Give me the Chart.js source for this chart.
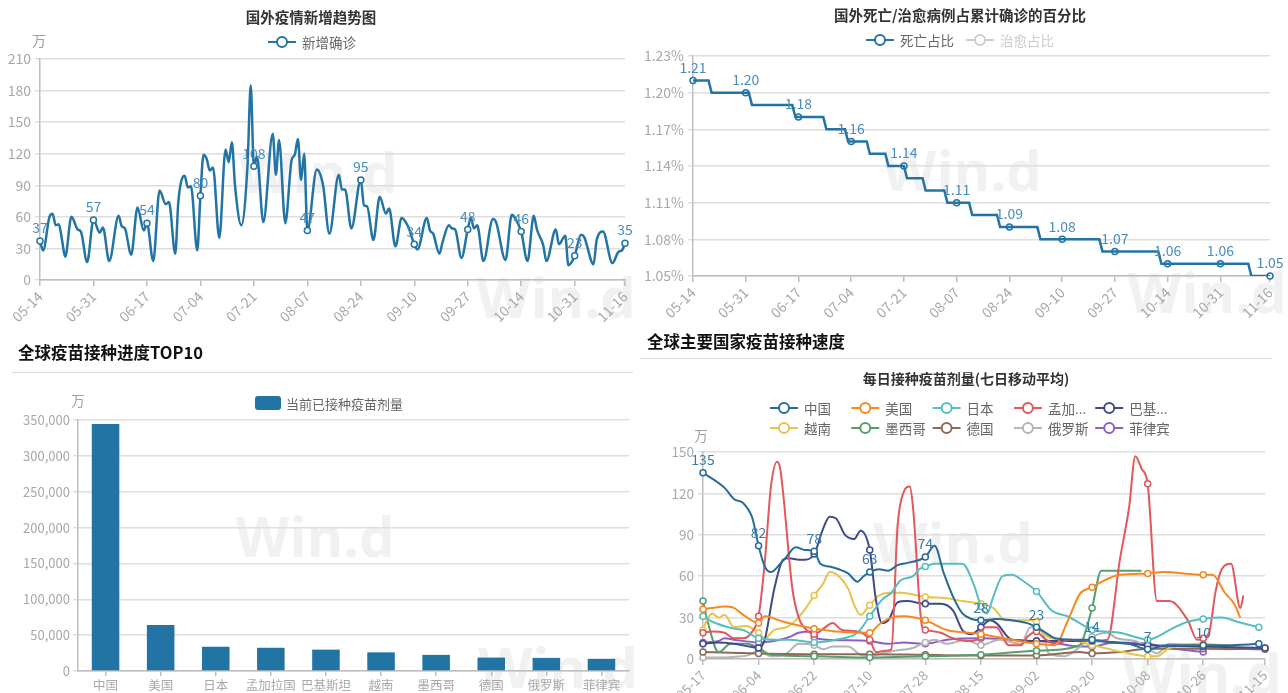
<!DOCTYPE html>
<html><head><meta charset="utf-8">
<script src="https://cdn.jsdelivr.net/npm/chart.js@4.4.1/dist/chart.umd.min.js"></script>
<style>
body{margin:0;width:1288px;height:693px;background:#fff;position:relative;overflow:hidden;font-family:'Noto Sans CJK SC','Noto Sans',sans-serif}
canvas{position:absolute}
.hd{position:absolute;font-weight:bold;font-size:16.5px;line-height:22px;color:#111;white-space:nowrap;z-index:2}
.rule{position:absolute;height:0;border-top:1.5px solid #dddddd;z-index:2}
</style></head>
<body>
<canvas id="c1" width="640" height="340" style="left:0;top:0"></canvas>
<canvas id="c2" width="648" height="340" style="left:640px;top:0"></canvas>
<canvas id="c3" width="640" height="353" style="left:0;top:340px"></canvas>
<canvas id="c4" width="648" height="353" style="left:640px;top:340px"></canvas>
<div class="hd" style="left:18px;top:341px">全球疫苗接种进度TOP10</div>
<div class="rule" style="left:12px;top:372px;width:621px"></div>
<div class="hd" style="left:647px;top:330px">全球主要国家疫苗接种速度</div>
<div class="rule" style="left:640px;top:358px;width:632px"></div>
<script>
// ---------------- DATA ----------------
const topTickDays = [0,17,34,51,68,85,102,119,136,153,170,186];
const topTickLabels = ['05-14','05-31','06-17','07-04','07-21','08-07','08-24','09-10','09-27','10-14','10-31','11-16'];

// 新增确诊 (万) : [day, value]
const newCases = [[0,37],[1,28],[3,60],[4,63],[5,52],[6,53],[7,38],[8,22],[10,60],[12,48],[13,46],[15,17],[17,57],[19,45],[20,50],[22,18],[25,61],[26,51],[27,49],[29,24],[31,69],[33,47],[34,54],[36,18],[38,85],[40,72],[41,74],[43,25],[44,75],[46,99],[47,88],[48,89],[50,28],[51,80],[52,119],[53,115],[54,104],[55,107],[57,40],[59,124],[60,112],[61,131],[62,90],[64,52],[66,110],[67,185],[68,108],[69,117],[71,55],[74,139],[75,100],[76,133],[78,54],[80,114],[81,119],[82,134],[83,95],[84,120],[85,47],[88,105],[90,90],[92,44],[95,100],[96,86],[97,86],[99,49],[102,95],[103,71],[104,70],[106,38],[108,79],[110,63],[111,68],[113,32],[115,59],[117,51],[119,34],[120,29],[123,59],[124,47],[125,44],[127,25],[128,36],[130,52],[131,49],[132,48],[134,21],[136,48],[137,59],[138,49],[139,52],[141,18],[144,58],[145,55],[148,19],[150,62],[151,59],[153,46],[155,18],[157,61],[158,48],[160,33],[161,18],[164,48],[165,34],[167,42],[168,14],[170,23],[172,43],[173,41],[176,15],[177,38],[179,46],[182,16],[184,27],[185,28],[186,35]];

// 死亡占比 (%) : [day, value]
const deathRatio = [[0,1.21],[5,1.21],[6,1.20],[18,1.20],[19,1.19],[32,1.19],[33,1.18],[42,1.18],[43,1.17],[49,1.17],[50,1.16],[56,1.16],[57,1.15],[62,1.15],[63,1.14],[68,1.14],[69,1.13],[74,1.13],[75,1.12],[81,1.12],[82,1.11],[89,1.11],[90,1.10],[98,1.10],[99,1.09],[111,1.09],[112,1.08],[131,1.08],[132,1.07],[150,1.07],[151,1.06],[179,1.06],[180,1.05],[186,1.05]];
const deathMarkers = [[0,1.21],[17,1.20],[34,1.18],[51,1.16],[68,1.14],[85,1.11],[102,1.09],[119,1.08],[136,1.07],[153,1.06],[170,1.06],[186,1.05]];
const deathTicks = [1.05,1.08,1.11,1.14,1.17,1.20,1.23];

// 疫苗接种 TOP10 (万剂)
const vacCountries = ['中国','美国','日本','孟加拉国','巴基斯坦','越南','墨西哥','德国','俄罗斯','菲律宾'];
const vacDoses = [344500,64300,33800,32400,29800,26000,22500,18700,18300,17000];

// 每日接种疫苗剂量(七日移动平均, 万) : [day, value]
const vacTickDays = [0,18,36,54,72,90,108,126,144,162,182];
const vacTickLabels = ['05-17','06-04','06-22','07-10','07-28','08-15','09-02','09-20','10-08','10-26','11-15'];
const dChina = [[0,135],[7,124],[10,116],[13,113],[16,102],[18,82],[20,67],[22,63],[25,69],[27,74],[30,81],[33,79],[36,78],[38,69],[41,67],[44,65],[47,62],[50,56],[52,60],[54,63],[57,65],[60,64],[63,68],[67,70],[72,74],[75,82],[78,62],[81,45],[84,33],[87,29],[90,28],[95,29],[100,28],[105,26],[108,23],[111,19],[114,15],[120,14],[126,14],[132,12],[138,11],[144,7],[150,10],[162,10],[170,10],[180,11]];
const dUSA = [[0,36],[3,37],[7,38],[10,37],[13,32],[18,26],[20,31],[26,27],[36,22],[43,20],[54,19],[57,25],[61,30],[65,31],[72,28],[79,21],[86,19],[90,18],[100,14],[108,11],[114,10],[118,27],[122,47],[126,52],[130,57],[135,61],[144,62],[149,63],[162,61],[165,61],[169,48],[172,40],[174,30]];
const dJapan = [[0,31],[3,27],[10,22],[13,21],[18,15],[23,14],[28,14],[36,12],[43,14],[50,19],[54,31],[58,43],[61,48],[64,57],[68,60],[70,65],[72,67],[75,69],[79,69],[84,69],[88,52],[90,38],[92,33],[94,45],[97,60],[100,61],[104,56],[108,49],[113,35],[118,31],[122,26],[126,21],[130,20],[135,19],[140,16],[144,14],[147,16],[151,21],[157,27],[162,29],[168,30],[173,27],[180,23]];
const dBangladesh = [[0,19],[3,20],[7,19],[10,15],[13,15],[16,20],[18,31],[20,70],[22,125],[24,143],[25,138],[29,50],[31,30],[34,20],[36,18],[39,22],[42,26],[45,21],[50,20],[54,14],[56,5],[59,6],[61,7],[63,96],[65,121],[67,125],[68,110],[71,23],[72,21],[77,19],[81,15],[86,13],[90,16],[91,23],[95,23],[99,10],[103,10],[105,16],[108,20],[110,16],[114,11],[119,14],[125,13],[131,14],[135,72],[138,110],[140,147],[142,138],[144,127],[147,42],[151,42],[157,28],[160,14],[162,15],[164,20],[166,49],[168,65],[171,69],[174,37],[175,46]];
const dPakistan = [[0,11],[5,12],[10,11],[15,9],[18,8],[20,14],[23,50],[26,72],[28,73],[31,72],[33,72],[36,76],[39,95],[41,103],[43,102],[46,90],[49,87],[51,93],[54,79],[56,43],[58,26],[60,28],[63,41],[66,42],[72,40],[77,40],[81,35],[84,21],[87,18],[90,23],[93,28],[95,26],[100,14],[108,13],[126,13],[144,10],[162,9],[182,8]];
const dVietnam = [[0,21],[1,27],[3,33],[5,30],[7,32],[10,23],[14,24],[18,19],[20,15],[23,21],[27,23],[30,28],[33,36],[36,46],[39,55],[41,63],[44,60],[47,51],[49,39],[51,32],[54,39],[57,46],[60,48],[64,48],[72,45],[79,44],[84,42],[90,40],[94,37],[98,28],[105,28],[108,27],[110,19],[115,14],[121,13],[126,10],[130,8],[136,5],[144,2],[147,2],[151,8],[162,11],[172,9]];
const dMexico = [[0,42],[2,23],[5,5],[9,11],[14,11],[18,8],[22,3],[36,2],[54,1],[72,2],[90,3],[108,6],[122,10],[123,14],[126,37],[129,64],[142,64]];
const dGermany = [[0,5],[18,4],[36,3.5],[54,3.5],[72,3],[90,2.5],[108,2.5],[122,5],[126,4],[135,5],[144,7.5],[162,7.5],[182,7]];
const dRussia = [[0,1],[10,1.5],[15,3],[18,6],[22,2],[27,4],[31,11],[36,10],[39,7],[42,9],[47,9],[51,3],[54,2],[58,4],[62,6],[68,8],[72,12],[75,14],[79,11],[85,14],[90,10],[96,14],[103,11],[106,23],[108,22],[110,19],[112,4],[117,2],[121,7],[126,16],[131,19],[134,15],[140,13],[144,8],[147,4],[151,11],[162,9],[170,7],[182,8]];
const dPhilippines = [[0,12],[5,13],[7,15],[10,14],[18,12],[25,14],[28,16],[31,19],[35,20],[36,16],[40,14],[54,13],[60,11],[65,12],[72,11],[79,14],[90,15],[100,14],[108,13],[113,12],[122,9],[126,9],[133,12],[144,11],[151,8],[162,5]];
const vacMarkerDays = [0,18,36,54,72,90,108,126,144,162,180,182];
const chinaLabelDays = [0,18,36,54,72,90,108,126,144,162];

// ---------------- SETUP ----------------
const FONT = "'Noto Sans CJK SC','Noto Sans',sans-serif";
Chart.defaults.font.family = FONT;
Chart.defaults.color = '#a8a8a8';
Chart.defaults.animation = false;
Chart.defaults.events = [];
Chart.defaults.plugins.legend.display = false;
Chart.defaults.plugins.tooltip.enabled = false;
const pts = a => a.map(([x, y]) => ({ x, y }));
const TICK = '#a8a8a8', GRID = '#dedede', AXIS = '#bdbdbd';

function drawLegend(chart, L) {
  const ctx = chart.ctx;
  ctx.save();
  ctx.font = (L.size || 13.5) + 'px ' + FONT;
  ctx.textBaseline = 'middle';
  ctx.textAlign = 'left';
  const items = [];
  chart.data.datasets.forEach((ds, i) => {
    if (!ds.label) return;
    let t = ds.label;
    if (L.maxChars && t.length > L.maxChars) t = t.slice(0, 2) + '...';
    items.push({ t, c: L.box ? ds.backgroundColor : ds.borderColor, off: !chart.isDatasetVisible(i) });
  });
  const iconW = L.box ? 31 : 34;
  const pos = [];
  if (L.colW) {
    items.forEach((it, i) => pos.push([L.x0 + (i % L.perRow) * L.colW, L.rows[Math.floor(i / L.perRow)]]));
  } else {
    const ws = items.map(it => iconW + ctx.measureText(it.t).width);
    const total = ws.reduce((a, b) => a + b, 0) + (L.gap || 12) * (ws.length - 1);
    let x = L.cx - total / 2;
    ws.forEach(w => { pos.push([x, L.y]); x += w + (L.gap || 12); });
  }
  items.forEach((it, i) => {
    const [x, y] = pos[i];
    const c = it.off ? '#cccccc' : it.c;
    if (L.box) {
      ctx.fillStyle = c;
      ctx.beginPath();
      if (ctx.roundRect) ctx.roundRect(x, y - 7, 26, 14, 3); else ctx.rect(x, y - 7, 26, 14);
      ctx.fill();
    } else {
      ctx.strokeStyle = c; ctx.lineWidth = 2;
      ctx.beginPath(); ctx.moveTo(x, y); ctx.lineTo(x + 28, y); ctx.stroke();
      ctx.beginPath(); ctx.arc(x + 14, y, 5, 0, Math.PI * 2);
      ctx.fillStyle = '#fff'; ctx.fill(); ctx.stroke();
    }
    ctx.fillStyle = it.off ? '#cccccc' : '#666';
    ctx.fillText(it.t, x + iconW, y + 1);
  });
  ctx.restore();
}

const deco = {
  id: 'deco',
  beforeDraw(chart, args, o) {
    const ctx = chart.ctx;
    (o.marks || []).forEach(m => {
      ctx.save();
      ctx.font = 'bold ' + m[2] + 'px "Open Sans", sans-serif';
      ctx.fillStyle = '#f1f1f1';
      ctx.textAlign = 'center'; ctx.textBaseline = 'middle';
      ctx.fillText('Win.d', m[0], m[1]);
      ctx.restore();
    });
  },
  afterDatasetsDraw(chart) {
    const ctx = chart.ctx;
    chart.data.datasets.forEach((ds, i) => {
      if (!ds.labelDays || !chart.isDatasetVisible(i)) return;
      const meta = chart.getDatasetMeta(i);
      ctx.save();
      ctx.font = (ds.labelSize || 14) + 'px ' + FONT;
      ctx.fillStyle = ds.labelColor;
      ctx.textAlign = 'center'; ctx.textBaseline = 'bottom';
      meta.data.forEach((el, j) => {
        const r = ds.data[j];
        if (!ds.labelDays.includes(r.x)) return;
        ctx.fillText(ds.labelFmt ? ds.labelFmt(r.y) : String(r.y), el.x, el.y - 6);
      });
      ctx.restore();
    });
  },
  afterDraw(chart, args, o) {
    const ctx = chart.ctx;
    (o.texts || []).forEach(t => {
      ctx.save();
      ctx.font = t.f + ' ' + FONT;
      ctx.fillStyle = t.c;
      ctx.textAlign = t.a || 'center'; ctx.textBaseline = 'middle';
      ctx.fillText(t.t, t.x, t.y);
      ctx.restore();
    });
    if (o.legend) drawLegend(chart, o.legend);
  }
};
Chart.register(deco);

function xLinear(days, labels, max, h, size) {
  return {
    type: 'linear', min: 0, max,
    afterBuildTicks: s => { s.ticks = days.map(v => ({ value: v })); },
    afterFit: s => { s.height = h; },
    ticks: { autoSkip: false, minRotation: 45, maxRotation: 45, padding: 2, color: TICK, font: { size },
      callback: v => labels[days.indexOf(v)] },
    grid: { drawOnChartArea: false, drawTicks: true, tickLength: 6, color: AXIS, lineWidth: 1.5 },
    border: { color: AXIS, width: 1.5 }
  };
}
function yLinear(min, max, step, w, size, pad, fmt, ticksArr) {
  const s = {
    min, max,
    afterFit: sc => { sc.width = w; },
    ticks: { stepSize: step, color: TICK, font: { size }, padding: pad, callback: fmt },
    grid: { color: GRID, lineWidth: 1.5, tickLength: 5, drawTicks: true },
    border: { display: true, color: AXIS, width: 1.5 }
  };
  if (ticksArr) s.afterBuildTicks = sc => { sc.ticks = ticksArr.map(v => ({ value: v })); };
  return s;
}
const markerRadius = (days, r) => ctx => (ctx.raw && days.includes(ctx.raw.x)) ? r : 0;

// ---------------- CHART 1 ----------------
const BLUE = '#2274a5', LBLUE = '#4a8dbb';
new Chart(document.getElementById('c1'), {
  type: 'line',
  data: { datasets: [{
    label: '新增确诊', data: pts(newCases), borderColor: BLUE, borderWidth: 2.5, clip: false,
    cubicInterpolationMode: 'monotone', pointRadius: markerRadius(topTickDays, 3),
    pointBackgroundColor: '#fff', pointBorderColor: BLUE, pointBorderWidth: 1.5,
    labelDays: topTickDays, labelColor: LBLUE, labelSize: 14
  }]},
  options: {
    responsive: false,
    layout: { padding: { top: 59, right: 15, left: 0, bottom: 0 } },
    scales: {
      x: xLinear(topTickDays, topTickLabels, 186, 60, 14),
      y: yLinear(0, 210, 30, 40, 14, 4, v => v)
    },
    plugins: { deco: {
      marks: [[318, 177, 56], [556, 302, 56]],
      texts: [{ t: '国外疫情新增趋势图', x: 311, y: 17, f: 'bold 14.5px', c: '#333' },
              { t: '万', x: 39, y: 41, f: '14px', c: '#a0a0a0' }],
      legend: { cx: 312, y: 42, size: 13.5 }
    }}
  }
});

// ---------------- CHART 2 ----------------
new Chart(document.getElementById('c2'), {
  type: 'line',
  data: { datasets: [
    { label: '死亡占比', data: pts(deathRatio), borderColor: BLUE, borderWidth: 2.5, tension: 0, pointRadius: 0 },
    { label: '治愈占比', data: [], borderColor: '#7fbf7f', hidden: true },
    { label: '', data: pts(deathMarkers), showLine: false, borderColor: BLUE, pointRadius: 3, clip: false,
      pointBackgroundColor: '#fff', pointBorderColor: BLUE, pointBorderWidth: 1.5,
      labelDays: topTickDays, labelColor: LBLUE, labelSize: 14, labelFmt: v => v.toFixed(2) }
  ]},
  options: {
    responsive: false,
    layout: { padding: { top: 56, right: 18, left: 0, bottom: 0 } },
    scales: {
      x: xLinear(topTickDays, topTickLabels, 186, 64, 14),
      y: yLinear(1.05, 1.23, 0.03, 53, 14, 4, v => v.toFixed(2) + '%', deathTicks)
    },
    plugins: { deco: {
      marks: [[322, 175, 56], [567, 297, 56]],
      texts: [{ t: '国外死亡/治愈病例占累计确诊的百分比', x: 320, y: 15, f: 'bold 14.5px', c: '#333' }],
      legend: { cx: 320, y: 40, size: 13.5, gap: 12 }
    }}
  }
});

// ---------------- CHART 3 ----------------
new Chart(document.getElementById('c3'), {
  type: 'bar',
  data: { labels: vacCountries, datasets: [{
    label: '当前已接种疫苗剂量', data: vacDoses, backgroundColor: '#2274a5',
    barPercentage: 0.5, categoryPercentage: 1
  }]},
  options: {
    responsive: false,
    layout: { padding: { top: 80, right: 11, left: 0, bottom: 0 } },
    scales: {
      x: {
        afterFit: s => { s.height = 22; },
        ticks: { autoSkip: false, maxRotation: 0, color: TICK, font: { size: 12.5 }, padding: 2 },
        grid: { drawOnChartArea: false, offset: false, tickLength: 5, color: AXIS, lineWidth: 1.5 },
        border: { color: AXIS, width: 1.5 }
      },
      y: yLinear(0, 350000, 50000, 78, 13, 3, v => v.toLocaleString('en-US'))
    },
    plugins: { deco: {
      marks: [[315, 201, 56], [558, 332, 56]],
      texts: [{ t: '万', x: 78, y: 61, f: '13.5px', c: '#a0a0a0' }],
      legend: { cx: 329, y: 63, size: 13, box: true }
    }}
  }
});

// ---------------- CHART 4 ----------------
const vacSeries = [
  ['中国', dChina, '#276c97'], ['美国', dUSA, '#f5891f'], ['日本', dJapan, '#57bdbf'],
  ['孟加拉国', dBangladesh, '#e0585c'], ['巴基斯坦', dPakistan, '#3f4a8a'], ['越南', dVietnam, '#e6c34a'],
  ['墨西哥', dMexico, '#569e6c'], ['德国', dGermany, '#8b6a57'], ['俄罗斯', dRussia, '#b4b4b4'],
  ['菲律宾', dPhilippines, '#8e5fc3']
];
new Chart(document.getElementById('c4'), {
  type: 'line',
  data: { datasets: vacSeries.map(([name, d, c], i) => {
    const ds = {
      label: name, data: pts(d), borderColor: c, borderWidth: 2, clip: false,
      cubicInterpolationMode: 'monotone', pointRadius: markerRadius(vacMarkerDays, 3),
      pointBackgroundColor: '#fff', pointBorderColor: c, pointBorderWidth: 1.5
    };
    if (i === 0) { ds.labelDays = chinaLabelDays; ds.labelColor = '#3b7bab'; ds.labelSize = 14; }
    return ds;
  })},
  options: {
    responsive: false,
    layout: { padding: { top: 112, right: 23, left: 0, bottom: 0 } },
    scales: {
      x: xLinear(vacTickDays, vacTickLabels, 182, 34, 13.5),
      y: yLinear(0, 150, 30, 63, 13.5, 4, v => v)
    },
    plugins: { deco: {
      marks: [[313, 207, 56], [562, 338, 56]],
      texts: [{ t: '每日接种疫苗剂量(七日移动平均)', x: 326, y: 39, f: 'bold 14px', c: '#333' },
              { t: '万', x: 61, y: 96, f: '13.5px', c: '#a0a0a0' }],
      legend: { x0: 130, colW: 81.3, perRow: 5, rows: [68, 88], size: 13.5, maxChars: 3 }
    }}
  }
});
</script>
</body></html>
